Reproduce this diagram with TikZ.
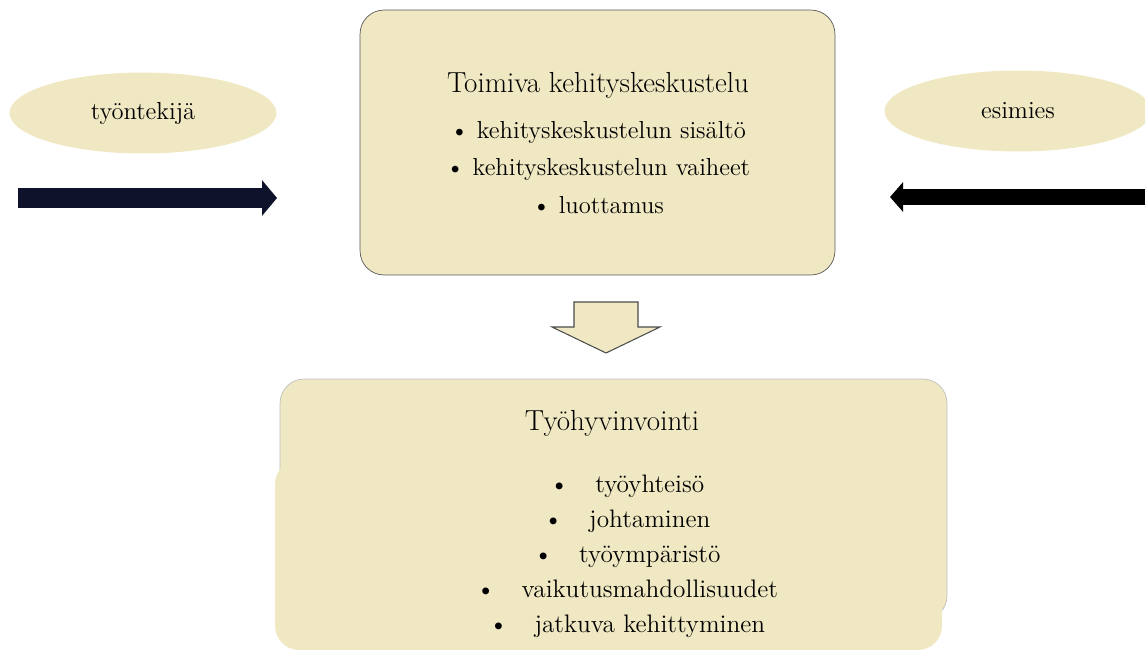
\documentclass[tikz,border=0pt]{standalone}
\usepackage{xcolor}
\usepackage{tikz}
\usetikzlibrary{arrows.meta, shapes.geometric}

\definecolor{wheat}{RGB}{240,232,194}
\definecolor{navyink}{RGB}{14,18,42}

\begin{document}
\begin{tikzpicture}[
      x=0.02cm, y=-0.02cm,
      party/.style={ellipse, fill=wheat, minimum width=5.34cm, minimum height=1.62cm,
                    inner sep=0pt, font=\fontsize{14}{17}\selectfont},
      topic/.style={fill=wheat, rounded corners=0.48cm, inner sep=0pt},
      head/.style={anchor=base, font=\fontsize{16.5}{20}\selectfont},
      items/.style={anchor=base, align=center, font=\fontsize{14}{21.3}\selectfont},
      fatarr/.style={-{Triangle[length=0.3cm, width=0.7cm]}, line width=0.4cm},
      hollow/.style={fill=wheat, draw=black!70, line width=0.6pt}
    ]
    \clip (0,0) rectangle (1145,653);
    \node[party] (worker) at (143,113) {työntekijä};
    \node[party] (boss) at (1018,111) {esimies};
    \node[topic, draw=black!65, minimum width=9.5cm, minimum height=5.3cm] (talk) at (597.5,142.5) {};
    \node[head] (talkhead) at (598,92) {Toimiva kehityskeskustelu};
    % base of a list = baseline of its last line
    \node[items] (talklist) at (598,213) {\textbullet{} kehityskeskustelun sisältö\\
      \textbullet{} kehityskeskustelun vaiheet\\ \textbullet{} luottamus};
    \node[topic, draw=black!25, minimum width=13.34cm, minimum height=4.82cm] (well) at (613.5,499.5) {};
    \node[topic, minimum width=13.34cm, minimum height=3.8cm] (welllow) at (608.5,555) {};
    \node[head] (wellhead) at (612,430) {Työhyvinvointi};
    \node[items, font=\fontsize{14.4}{19.8}\selectfont] (welllist) at (627,632) {%
      \textbullet\hspace{15pt}työyhteisö\\ \textbullet\hspace{15pt}johtaminen\\
      \textbullet\hspace{15pt}työympäristö\\ \textbullet\hspace{15pt}vaikutusmahdollisuudet\\
      \textbullet\hspace{15pt}jatkuva kehittyminen};
    % arrows
    \coordinate (wtail) at (18,198);
    \coordinate (wtip) at (277,198);
    \coordinate (etail) at (1160,197);
    \coordinate (etip) at (890,197);
    \draw[fatarr, navyink] (wtail) -- (wtip);
    \draw[fatarr, black, line width=0.32cm, -{Triangle[length=0.26cm, width=0.58cm]}] (etail) -- (etip);
    \coordinate (dn) at (606,302);
    \draw[hollow] (dn) ++(-32,0) -- ++(64,0) -- ++(0,25) -- ++(22,0) -- (606,353)
      -- (552,327) -- (574,327) -- cycle;
  \end{tikzpicture}
\end{document}
